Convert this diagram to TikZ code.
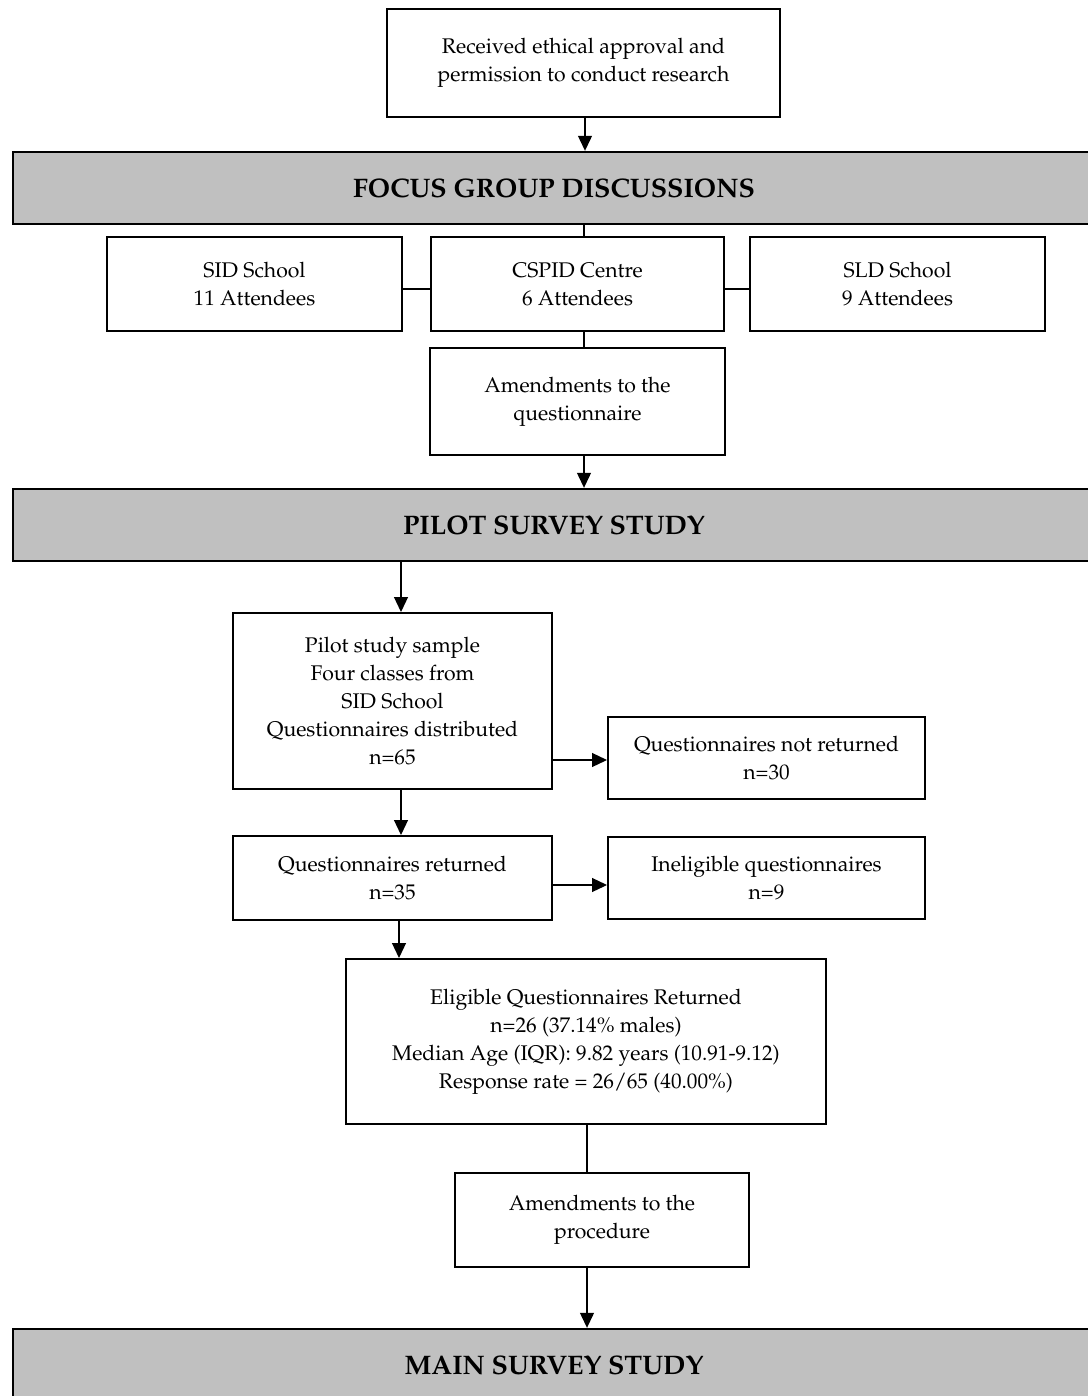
\documentclass[tikz,border=0pt]{standalone}
\usepackage[T1]{fontenc}
\usepackage{mathpazo}
\usepackage{tikz}
\usetikzlibrary{arrows.meta,positioning,calc}
\usepackage{xcolor}
\definecolor{bandgray}{HTML}{C0C0C0}
\tikzset{
  block/.style = {draw, line width=1pt, rectangle, align=center,
                  inner sep=0pt, font=\fontsize{10.6}{14}\selectfont},
  band/.style  = {draw, line width=1.2pt, rectangle, fill=bandgray,
                  inner sep=0pt, minimum width=541pt, minimum height=36pt,
                  font=\fontsize{13.4}{16}\selectfont\bfseries},
  sig/.style   = {-{Triangle[length=7.5pt,width=7pt]}, line width=0.6pt},
  link/.style  = {line width=0.6pt},
}

\begin{document}
\begin{tikzpicture}[x=0.5pt, y=-0.5pt]
\useasboundingbox (0,0) rectangle (1087,1396);
% ---- approval ----
\node[block, minimum width=196.5pt, minimum height=54pt] (approval) at (583.5,63)
     {Received ethical approval and\\permission to conduct research};
% ---- focus groups ----
\node[band] (focus) at (554,188) {FOCUS GROUP DISCUSSIONS};
\node[block, minimum width=147.5pt, minimum height=47pt] (sid) at (254.5,284)
     {SID School\\11 Attendees};
\node[block, minimum width=146.5pt, minimum height=47pt] (cspid) at (577.5,284)
     {CSPID Centre\\6 Attendees};
\node[block, minimum width=147.5pt, minimum height=47pt] (sld) at (897.5,284)
     {SLD School\\9 Attendees};
\node[block, minimum width=147.5pt, minimum height=53.5pt] (amendq) at (577.5,401.5)
     {Amendments to the\\questionnaire};
% ---- pilot survey ----
\node[band] (pilot) at (554,525) {PILOT SURVEY STUDY};
\node[block, minimum width=159.5pt, minimum height=88pt] (sample) at (392.5,701)
     {Pilot study sample\\Four classes from\\SID School\\Questionnaires distributed\\n=65};
\node[block, minimum width=158.5pt, minimum height=41pt] (notret) at (766.5,758)
     {Questionnaires not returned\\n=30};
\node[block, minimum width=159.5pt, minimum height=42pt] (returned) at (392.5,878)
     {Questionnaires returned\\n=35};
\node[block, minimum width=158.5pt, minimum height=41pt] (inelig) at (766.5,878)
     {Ineligible questionnaires\\n=9};
\node[block, minimum width=240pt, minimum height=82.5pt] (eligible) at (586,1041.5)
     {Eligible Questionnaires Returned\\n=26 (37.14\% males)\\
      Median Age (IQR): 9.82 years (10.91-9.12)\\Response rate = 26/65 (40.00\%)};
\node[block, minimum width=147pt, minimum height=47pt] (amendp) at (602,1220)
     {Amendments to the\\procedure};
% ---- main survey ----
\node[band] (mainsv) at (554,1365) {MAIN SURVEY STUDY};
% ---- connectors ----
\draw[sig]  (approval.south -| 585,0) -- (focus.north -| 585,0);
\draw[link] (focus.south -| 584,0) -- (cspid.north -| 584,0);
\draw[link] (sid.east |- 0,289) -- (cspid.west |- 0,289);
\draw[link] (cspid.east |- 0,289) -- (sld.west |- 0,289);
\draw[link] (cspid.south -| 584,0) -- (amendq.north -| 584,0);
\draw[sig]  (amendq.south -| 584,0) -- (pilot.north -| 584,0);
\draw[sig]  (pilot.south -| 401,0) -- (sample.north -| 401,0);
\draw[sig]  (sample.east |- 0,760) -- (notret.west |- 0,760);
\draw[sig]  (sample.south -| 401,0) -- (returned.north -| 401,0);
\draw[sig]  (returned.east |- 0,885) -- (inelig.west |- 0,885);
\draw[sig]  (returned.south -| 399,0) -- (eligible.north -| 399,0);
\draw[link] (eligible.south -| 587,0) -- (amendp.north -| 587,0);
\draw[sig]  (amendp.south -| 587,0) -- (mainsv.north -| 587,0);
\end{tikzpicture}
\end{document}
